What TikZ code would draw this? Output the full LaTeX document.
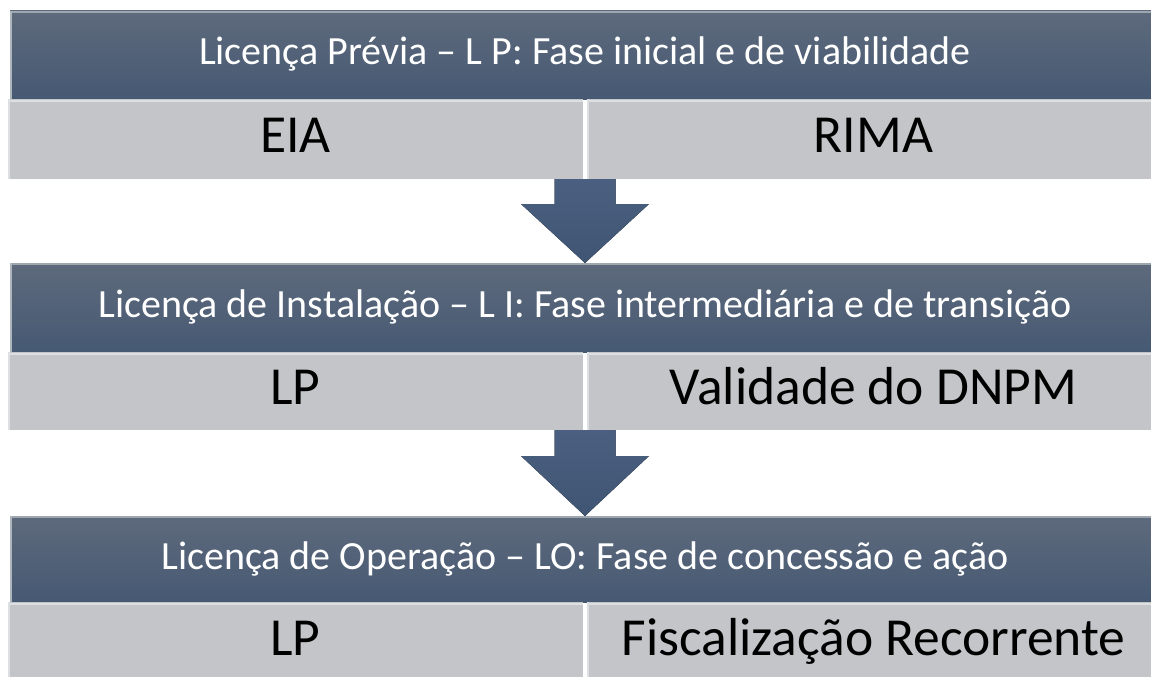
\documentclass[tikz,border=0pt]{standalone}
\usepackage{fontspec}
\setmainfont{Carlito}
\usetikzlibrary{calc}
\definecolor{hdtop}{HTML}{5E6A7C}
\definecolor{hdbot}{HTML}{465973}
\definecolor{cellgray}{HTML}{C3C5C9}
\definecolor{celllight}{HTML}{DDE0E3}
\definecolor{arrowcol}{HTML}{3F5573}
\definecolor{arrowlight}{HTML}{4B6080}
\tikzset{
  header/.style={anchor=north west, inner sep=0pt, outer sep=0pt,
    top color=hdtop, bottom color=hdbot, text=white,
    font=\fontsize{40}{44}\selectfont, minimum width=1150pt,
    text height=28pt, text depth=8pt},
  cell/.style={anchor=north west, inner sep=0pt, outer sep=0pt,
    fill=cellgray, text=black, font=\fontsize{53.5}{58}\selectfont,
    minimum height=80pt, text height=37pt, text depth=10pt},
  hilite/.style={draw=celllight, line width=2pt},
  hdhilite/.style={draw=#1, line width=2pt},
  flowarrow/.style={top color=arrowlight, bottom color=arrowcol, draw=none}
}
\begin{document}
\begin{tikzpicture}[x=1pt,y=-1pt]
\useasboundingbox (0,0) rectangle (1151,677);
\fill[white] (0,0) rectangle (1151,677);

% block 1
\node[header, minimum height=88pt] (h1) at (10,11) {Licença Prévia – L P: Fase inicial e de viabilidade};
\node[cell, minimum width=575pt] (a1) at (8,99) {EIA};
\node[cell, minimum width=573pt] (b1) at (587,99) {RIMA};

% block 2
\node[header, minimum height=89pt] (h2) at (10,263) {Licença de Instalação – L I: Fase intermediária e de transição};
\node[cell, minimum width=575pt, minimum height=78pt] (a2) at (8,352) {LP};
\node[cell, minimum width=573pt, minimum height=78pt] (b2) at (587,352) {Validade do DNPM};

% block 3
\node[header, minimum height=86pt] (h3) at (10,516) {Licença de Operação – LO: Fase de concessão e ação};
\node[cell, minimum width=575pt] (a3) at (8,602) {LP};
\node[cell, minimum width=573pt] (b3) at (587,602) {Fiscalização Recorrente};

% highlights
\foreach \h in {h1,h2,h3}{
  \draw[hdhilite=hdtop!60!white] ($(\h.north west)+(0,1)$) -- ($(\h.north east)+(0,1)$);
  \draw[hdhilite=hdtop!50!white] ($(\h.north west)+(1,0)$) -- ($(\h.south west)+(1,0)$);
}
\foreach \c in {a1,b1,a2,b2,a3,b3}{
  \draw[hilite] ($(\c.north west)+(0,2)$) -- ($(\c.north east)+(0,2)$);
  \draw[hilite] ($(\c.north west)+(1,0)$) -- ($(\c.south west)+(1,0)$);
}

% arrows
\coordinate (s1) at ($(a1.south east)!0.5!(b1.south west)$);
\coordinate (t1) at (s1 |- h2.north);
\fill[flowarrow] ($(s1)+(-30.5,0)$) -- ($(s1)+(30.5,0)$) -- ($(s1)+(30.5,25)$) -- ($(s1)+(64,25)$)
  -- (t1) -- ($(s1)+(-64,25)$) -- ($(s1)+(-30.5,25)$) -- cycle;
\coordinate (s2) at ($(a2.south east)!0.5!(b2.south west)$);
\coordinate (t2) at (s2 |- h3.north);
\fill[flowarrow] ($(s2)+(-30.5,0)$) -- ($(s2)+(30.5,0)$) -- ($(s2)+(30.5,26)$) -- ($(s2)+(64,26)$)
  -- (t2) -- ($(s2)+(-64,26)$) -- ($(s2)+(-30.5,26)$) -- cycle;
\end{tikzpicture}
\end{document}
